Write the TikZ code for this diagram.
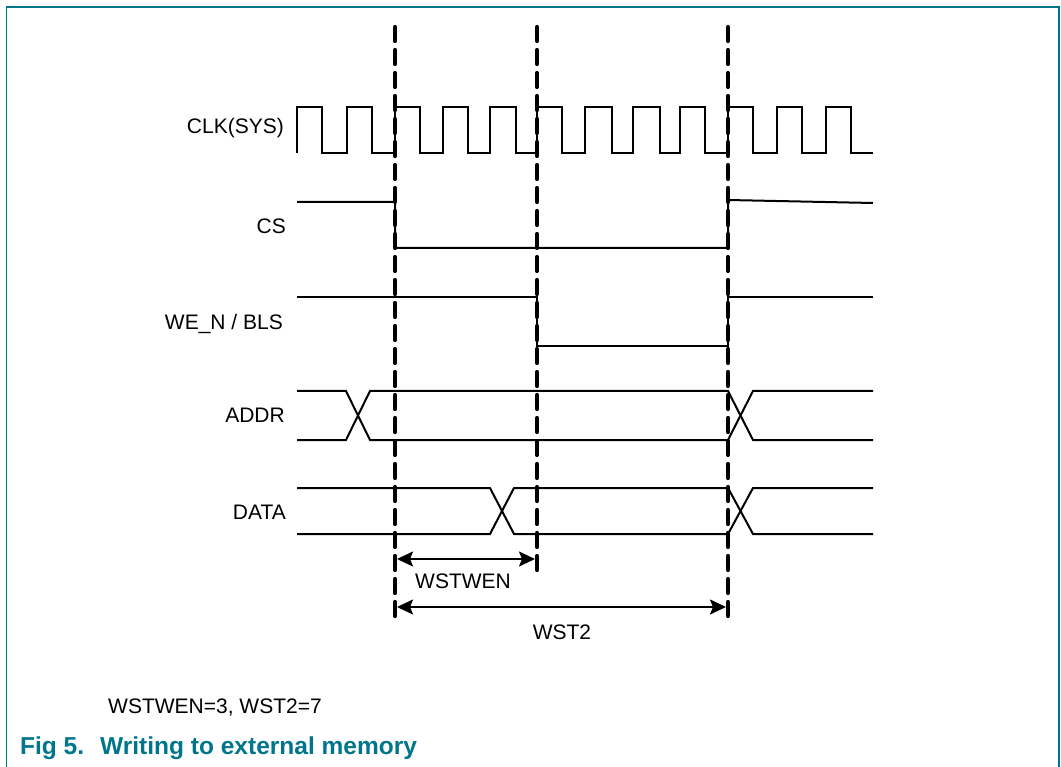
\documentclass[tikz,border=0pt]{standalone}
\usepackage{fontspec}
\setmainfont{Liberation Sans}
\usetikzlibrary{arrows.meta}
\definecolor{nxpteal}{RGB}{0,118,138}
\begin{document}
\begin{tikzpicture}[x=1pt,y=-1pt,
  sig/.style={line width=2pt, line join=miter},
  vdash/.style={line width=4.2pt, dash pattern=on 14pt off 9pt, line cap=round},
  lbl/.style={anchor=east, inner sep=0pt, font=\fontsize{21}{25}\selectfont},
  txt/.style={inner sep=0pt, font=\fontsize{21}{25}\selectfont},
  dimline/.style={line width=2pt, {Stealth[length=16pt,width=15pt,inset=3pt]}-{Stealth[length=16pt,width=15pt,inset=3pt]}},
  capt/.style={anchor=base west, inner sep=0pt, text=nxpteal, font=\fontsize{24.5}{29}\selectfont\bfseries},
]
\useasboundingbox (0,0) rectangle (1061,767);
% frame
\draw[nxpteal, line width=1.5pt] (6.5,767) -- (6.5,7) -- (1059,7) -- (1059,767);

% labels
\node[lbl] (lclk) at (284,128) {CLK(SYS)};
\node[lbl] (lcs) at (286,226) {CS};
\node[lbl] (lwe) at (283,324) {WE\_N / BLS};
\node[lbl] (laddr) at (285,415) {ADDR};
\node[lbl] (ldata) at (286,512) {DATA};

% clock
\draw[sig] (297,153)
  foreach \r/\f/\n in {297/322/347, 347/372/395, 395/420/443, 443/468/490,
                       490/516/537, 537/562/585, 585/612/633, 633/660/680,
                       680/705/728, 728/753/777, 777/802/826, 826/851/873}
  { -- (\r,107) -- (\f,107) -- (\f,153) -- (\n,153) };

% CS
\draw[sig] (297,202) -- (395,202) -- (395,248) -- (728,248) -- (728,200) -- (873,203);
% WE_N / BLS
\draw[sig] (297,297) -- (537,297) -- (537,346) -- (728,346) -- (728,297) -- (873,297);
% ADDR
\draw[sig] (297,391) -- (346,391) -- (370,440) -- (728,440) -- (753,391) -- (873,391);
\draw[sig] (297,440) -- (346,440) -- (370,391) -- (728,391) -- (753,440) -- (873,440);
% DATA
\draw[sig] (297,488) -- (490,488) -- (514,534) -- (728,534) -- (753,488) -- (873,488);
\draw[sig] (297,534) -- (490,534) -- (514,488) -- (728,488) -- (753,534) -- (873,534);

% dashed markers
\coordinate (m1t) at (395,27);  \coordinate (m1b) at (395,621);
\coordinate (m2t) at (537,27);  \coordinate (m2b) at (537,576);
\coordinate (m3t) at (728,27);  \coordinate (m3b) at (728,621);
\draw[vdash] (m1t) -- (m1b);
\draw[vdash] (m2t) -- (m2b);
\draw[vdash] (m3t) -- (m3b);

% dimension arrows
\coordinate (a1l) at (397,559); \coordinate (a1r) at (535,559);
\coordinate (a2l) at (397,607); \coordinate (a2r) at (726,607);
\draw[dimline] (a1l) -- (a1r);
\draw[dimline] (a2l) -- (a2r);
\node[txt] (twstwen) at (463,581) {WSTWEN};
\node[txt] (twst2) at (562,632) {WST2};

% note and caption
\node[txt, anchor=base west] (note) at (108,713) {WSTWEN=3, WST2=7};
\node[capt] (fig) at (20,754) {Fig 5.};
\node[capt] (title) at (100,754) {Writing to external memory};
\end{tikzpicture}
\end{document}
